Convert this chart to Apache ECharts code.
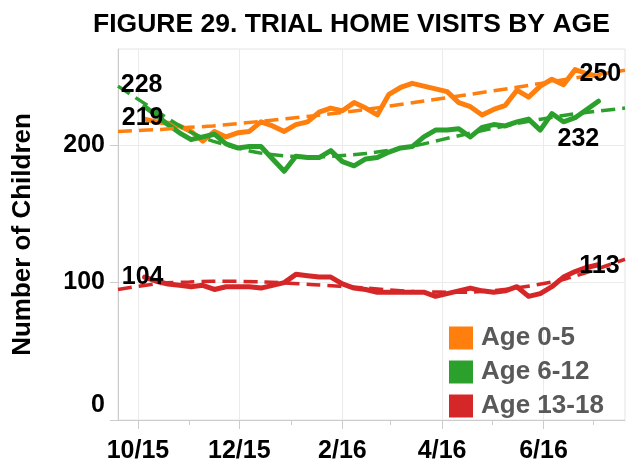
<!DOCTYPE html>
<html>
<head>
<meta charset="utf-8">
<script src="https://cdn.jsdelivr.net/npm/echarts@6/dist/echarts.min.js"></script>
<style>
    html, body { margin: 0; padding: 0; background: #fff; }
    #chart { width: 634px; height: 464px; }
</style>
</head>
<body>
<div id="chart"></div>
<script>
    // weekly counts, Oct 2015 - Jul 2016
    var weeks = ['2015-10-05', '2015-10-12', '2015-10-19', '2015-10-26', '2015-11-02', '2015-11-09', '2015-11-16', '2015-11-23', '2015-11-30',
        '2015-12-07', '2015-12-14', '2015-12-21', '2015-12-28', '2016-01-04', '2016-01-11', '2016-01-18', '2016-01-25',
        '2016-02-01', '2016-02-08', '2016-02-15', '2016-02-22', '2016-02-29', '2016-03-07', '2016-03-14', '2016-03-21', '2016-03-28',
        '2016-04-04', '2016-04-11', '2016-04-18', '2016-04-25', '2016-05-02', '2016-05-09', '2016-05-16', '2016-05-23', '2016-05-30',
        '2016-06-06', '2016-06-13', '2016-06-20', '2016-06-27', '2016-07-04'];
    var age0to5 = [219, 217, 216, 214, 210, 203, 210, 206, 209, 210, 217, 214, 210, 215, 217, 224, 227, 225, 231, 227,
        222, 237, 242, 245, 243, 241, 239, 231, 228, 222, 226, 229, 240, 235, 243, 248, 244, 255, 252, 250];
    var age6to12 = [228, 222, 215, 209, 204, 206, 208, 201, 198, 199, 199, 190, 181, 192, 191, 191, 196, 188, 185, 190,
        191, 195, 198, 199, 206, 211, 211, 212, 206, 213, 215, 214, 217, 219, 211, 223, 217, 220, 226, 232];
    var age13to18 = [104, 101, 99, 98, 97, 98, 95, 97, 97, 97, 96, 98, 100, 106, 105, 104, 104, 99, 96, 95,
        93, 93, 93, 93, 93, 90, 92, 94, 96, 94, 93, 94, 97, 90, 92, 97, 104, 108, 111, 113];

    // trend lines
    var trendDates = ['2015-09-19', '2015-10-15', '2015-11-01', '2015-11-15', '2015-12-15', '2016-01-15',
        '2016-02-15', '2016-03-15', '2016-04-15', '2016-05-15', '2016-06-15', '2016-07-20'];
    var trend0to5 = [210, 211.5, 213, 214, 217.5, 221.5, 226, 231, 236.5, 242, 248, 254.5];
    var trend6to12 = [243, 222.5, 210, 203, 194, 191.5, 194, 199.5, 208, 215.5, 222, 227];
    var trend13to18 = [95, 99.5, 100.5, 101, 100.5, 98.5, 96, 93.5, 93, 96, 103, 117];

    var tickDates = ['2015-10-01', '2015-12-01', '2016-02-01', '2016-04-01', '2016-06-01'];
    var tickLabels = ['10/15', '12/15', '2/16', '4/16', '6/16'];
    var monthDates = ['2015-11-01', '2016-01-01', '2016-03-01', '2016-05-01', '2016-07-01'];
    var yTicks = [0, 100, 200];

    var colors = ['#ff7f0e', '#2ca02c', '#d62728'];
    var font = '"Liberation Sans", Arial, sans-serif';

    var origin = Date.UTC(2015, 9, 1);
    function dayOf(s) {
        var p = s.split('-');
        return (Date.UTC(+p[0], +p[1] - 1, +p[2]) - origin) / 86400000;
    }
    function pairs(dates, vals) {
        return vals.map(function (v, i) { return [dayOf(dates[i]), v]; });
    }

    var tickDays = tickDates.map(dayOf);
    var monthDays = monthDates.map(dayOf);
    var xMin = dayOf('2015-09-19');
    var xMax = dayOf('2016-07-20');

    var axisGray = '#cccccc';
    var gridGray = '#ebebeb';

    function actual(name, vals, color) {
        return {
            name: name, type: 'line', data: pairs(weeks, vals), showSymbol: false, z: 2,
            lineStyle: { width: 5, color: color, cap: 'round', join: 'round' },
            itemStyle: { color: color }
        };
    }
    function trend(vals, color) {
        return {
            type: 'line', data: pairs(trendDates, vals), smooth: 0.3, showSymbol: false, z: 3, silent: true,
            lineStyle: { width: 3.5, color: color, type: [14, 7] }
        };
    }
    var last = weeks.length - 1;
    function endLabel(vals, i, offset) {
        return { value: [dayOf(weeks[i]), vals[i]], label: { offset: offset } };
    }

    var chart = echarts.init(document.getElementById('chart'));
    chart.setOption({
        animation: false,
        title: {
            text: 'FIGURE 29. TRIAL HOME VISITS BY AGE', left: 88, top: 6,
            textStyle: { fontFamily: font, fontSize: 26.5, fontWeight: 'bold', color: '#000' }
        },
        grid: { left: 118, right: 9, top: 49, bottom: 41, show: true, borderColor: '#e4e4e4', borderWidth: 1 },
        legend: {
            orient: 'vertical', left: 444, top: 320, icon: 'rect', itemWidth: 24, itemHeight: 23, itemGap: 8,
            data: ['Age 0-5', 'Age 6-12', 'Age 13-18'],
            textStyle: { fontFamily: font, fontSize: 26, fontWeight: 'bold', color: '#595959', padding: [0, 0, 0, 3] }
        },
        xAxis: [{
            type: 'value', min: xMin, max: xMax,
            axisLine: { onZero: false, lineStyle: { color: axisGray } },
            axisTick: { customValues: tickDays, length: 9, lineStyle: { color: axisGray } },
            axisLabel: {
                customValues: tickDays, margin: 19,
                fontFamily: font, fontSize: 25, fontWeight: 'bold', color: '#000',
                formatter: function (v) { return tickLabels[tickDays.indexOf(v)] || ''; }
            },
            splitLine: { show: true, lineStyle: { color: gridGray } }
        }, {
            type: 'value', min: xMin, max: xMax, position: 'bottom',
            axisLine: { show: false, onZero: false },
            axisTick: { customValues: monthDays, length: 5, lineStyle: { color: axisGray } },
            axisLabel: { show: false },
            splitLine: { show: false }
        }],
        yAxis: {
            type: 'value', min: 0, max: 270,
            name: 'Number of Children', nameLocation: 'middle', nameGap: 82,
            nameTextStyle: { fontFamily: font, fontSize: 26, fontWeight: 'bold', color: '#000' },
            axisLine: { show: true, onZero: false, lineStyle: { color: axisGray } },
            axisTick: { show: true, customValues: yTicks, length: 8, lineStyle: { color: axisGray } },
            axisLabel: {
                customValues: yTicks, margin: 13,
                fontFamily: font, fontSize: 25, fontWeight: 'bold', color: '#000',
                formatter: function (v) { return v === 0 ? '{z|0}' : String(v); },
                rich: { z: { fontFamily: font, fontSize: 25, fontWeight: 'bold', color: '#000', padding: [0, 0, 30, 0] } }
            },
            splitLine: { lineStyle: { color: gridGray } }
        },
        series: [
            actual('Age 0-5', age0to5, colors[0]),
            actual('Age 6-12', age6to12, colors[1]),
            actual('Age 13-18', age13to18, colors[2]),
            trend(trend0to5, colors[0]),
            trend(trend6to12, colors[1]),
            trend(trend13to18, colors[2]),
            {
                type: 'scatter', symbolSize: 0, z: 10, silent: true,
                itemStyle: { color: 'transparent', opacity: 1 },
                label: {
                    show: true, position: 'inside', opacity: 1,
                    fontFamily: font, fontSize: 25, fontWeight: 'bold', color: '#000',
                    formatter: function (p) { return p.value[1]; }
                },
                data: [
                    endLabel(age6to12, 0, [-3, -22]),
                    endLabel(age0to5, 0, [-2, -1]),
                    endLabel(age13to18, 0, [-2, 0]),
                    endLabel(age0to5, last, [2, -2]),
                    endLabel(age6to12, last, [-20, 38]),
                    endLabel(age13to18, last, [1, 1])
                ]
            }
        ]
    });
</script>
</body>
</html>
